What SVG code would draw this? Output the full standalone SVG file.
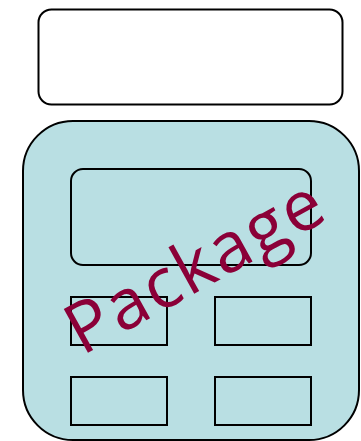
<svg xmlns="http://www.w3.org/2000/svg" width="361" height="441" viewBox="0 0 361 441">
<style>
.box{fill:none;stroke:#000;stroke-width:2}
.lbl{font-family:"Open Sans","Noto Sans",sans-serif;font-size:70px;letter-spacing:2.6px;fill:#8b0038}
</style>
<rect width="361" height="441" fill="#fff"/>
<g id="header"><rect x="38.5" y="9.5" width="304" height="95" rx="13" fill="#fff" stroke="#000" stroke-width="2"/></g>
<g id="package">
<rect x="23" y="121" width="336" height="319" rx="50" fill="#b9dfe3" stroke="#000" stroke-width="2"/>
<rect class="box" x="71" y="169" width="240" height="96" rx="12"/>
<rect class="box" x="71" y="297" width="96" height="48"/>
<rect class="box" x="215" y="297" width="96" height="48"/>
<rect class="box" x="71" y="377" width="96" height="48"/>
<rect class="box" x="215" y="377" width="96" height="48"/>
<text class="lbl" x="0" y="0" transform="translate(82,356) rotate(-29)">Package</text>
</g>
<g id="connectors"/>
</svg>
